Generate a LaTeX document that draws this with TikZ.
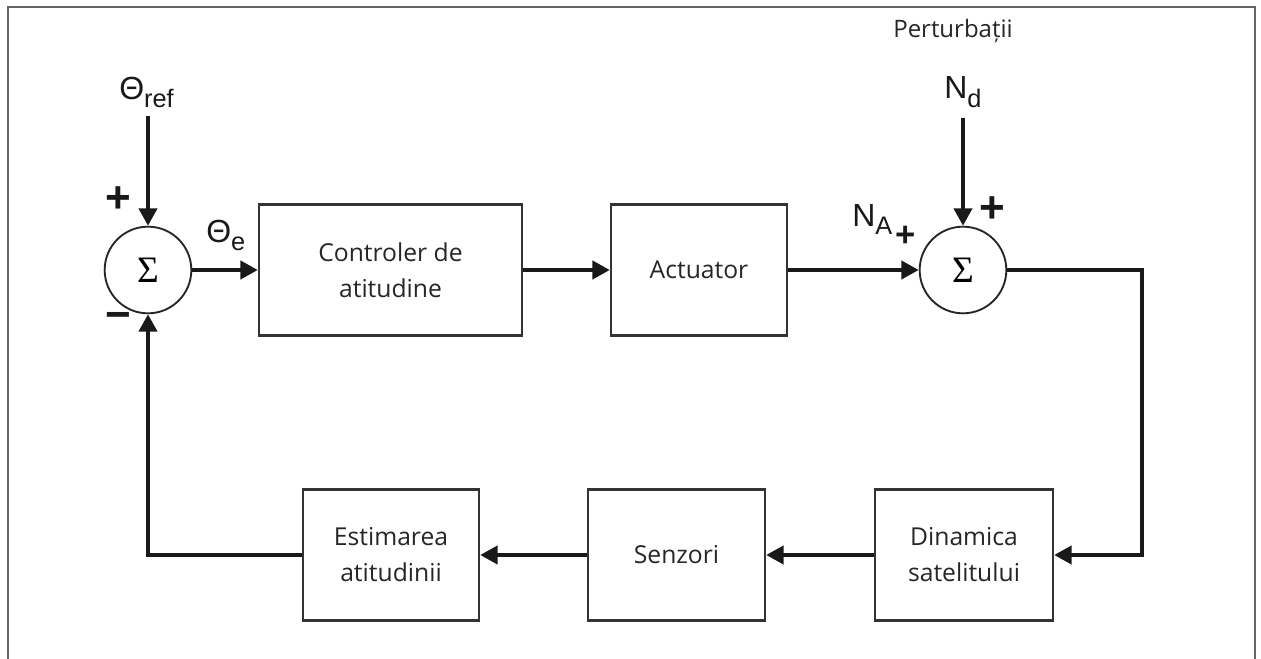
\documentclass[tikz,border=0pt]{standalone}
\usepackage{fontspec}
\setmainfont{Open Sans}
\newfontfamily\arialf{Liberation Sans}
\newfontfamily\timesf{Liberation Serif}
\usetikzlibrary{arrows.meta}
\begin{document}
\begin{tikzpicture}[x=0.75pt,y=-0.75pt,
  blk/.style={draw=black!80, line width=1.8pt, minimum height=98.5pt, inner sep=0pt, align=center, text=black!85, font=\fontsize{18.5}{27}\selectfont},
  sumnode/.style={circle, draw=black!85, line width=1.4pt, minimum size=65pt, inner sep=0pt, font=\timesf\fontsize{28}{28}\selectfont},
  flow/.style={line width=2.9pt, draw=black!90, -{Triangle[length=13pt,width=13.5pt]}},
  lbl/.style={font=\arialf\fontsize{24}{24}\selectfont, inner sep=0pt, text=black!90},
  sgn/.style={font=\arialf\bfseries\fontsize{33}{33}\selectfont, inner sep=0pt, text=black!90},
  sgnsmall/.style={font=\arialf\bfseries\fontsize{26}{26}\selectfont, inner sep=0pt, text=black!90}]
\useasboundingbox (0,0) rectangle (1261,659);
\fill[white] (0,0) rectangle (1261,659);
% frame
\draw[black!60, line width=1.5pt] (8,659) -- (8,7) -- (1255,7) -- (1255,659);

% blocks
\node[sumnode] (s1) at (148,270) {Σ};
\node[sumnode] (s2) at (963,270) {Σ};
\node[blk, minimum width=197.25pt] (ctrl) at (390.5,270) {Controler de\\atitudine};
\node[blk, minimum width=132pt] (act) at (699,270) {Actuator};
\node[blk, minimum width=132pt] (est) at (391,555) {Estimarea\\atitudinii};
\node[blk, minimum width=132.75pt] (sen) at (676.5,555) {Senzori};
\node[blk, minimum width=133.5pt] (din) at (964,555) {Dinamica\\satelitului};

% labels
\node[lbl, anchor=base west] (tref) at (119,100) {Θ\raisebox{-5.5pt}{\fontsize{19}{19}\selectfont ref}};
\node[lbl, anchor=base west] (te) at (206,243) {Θ\raisebox{-5.5pt}{\fontsize{19}{19}\selectfont e}};
\node[lbl, anchor=base west] (nd) at (944,99) {N\raisebox{-6.5pt}{\fontsize{19}{19}\selectfont d}};
\node[lbl, anchor=base west] (na) at (852,227) {N\raisebox{-6pt}{\fontsize{19}{19}\selectfont A}};
\node[font=\fontsize{18}{18}\selectfont, text=black!85, inner sep=0pt] (pert) at (953,31) {Perturbații};

\node[sgn] (p1) at (118,200) {+};
\node[sgn] (m1) at (118,321) {−};
\node[sgn] (p2) at (992,210) {+};
\node[sgnsmall] (p3) at (906,236) {+};

% connectors
\coordinate (trefend) at (148,116);
\coordinate (ndend) at (963,118);
\coordinate (c1) at (1142,270);
\draw[flow] (trefend) -- (s1.north);
\draw[flow] (ndend) -- (s2.north);
\draw[flow] (s1.east) -- (ctrl.west);
\draw[flow] (ctrl.east) -- (act.west);
\draw[flow] (act.east) -- (s2.west);
\draw[flow] (s2.east) -- (c1) |- (din.east);
\draw[flow] (din.west) -- (sen.east);
\draw[flow] (sen.west) -- (est.east);
\draw[flow] (est.west) -| (s1.south);
\end{tikzpicture}
\end{document}
